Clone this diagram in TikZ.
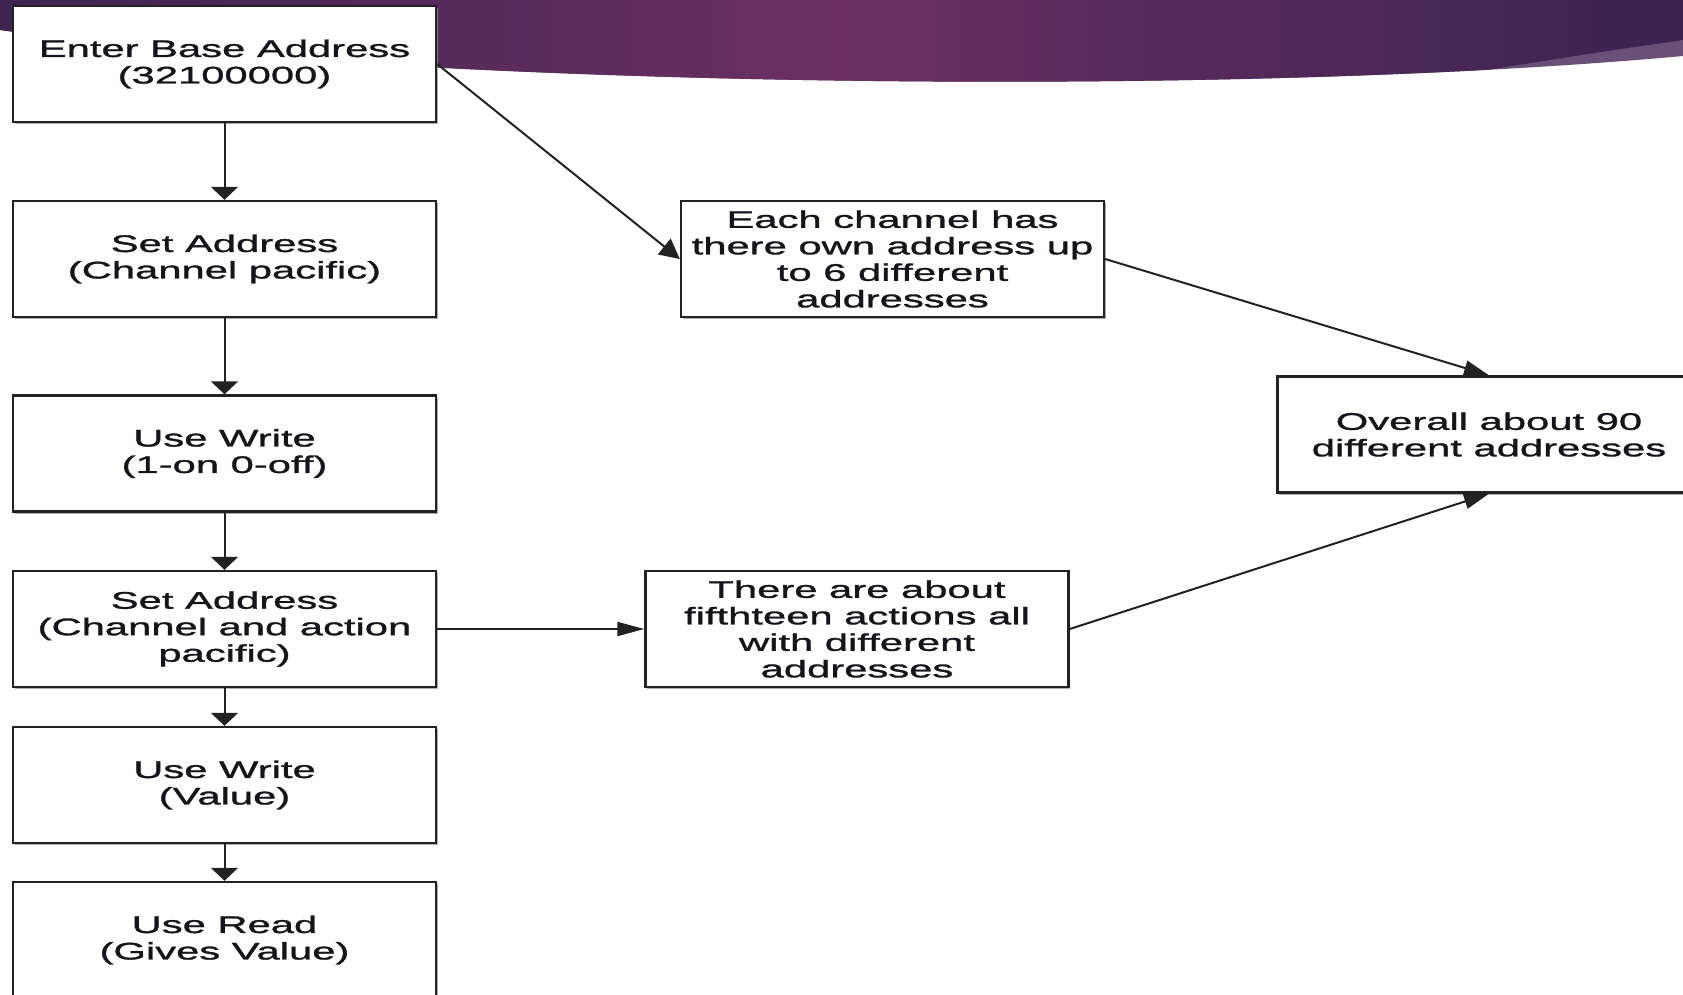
\documentclass[tikz,border=0pt]{standalone}
\usepackage{fontspec}
\setmainfont[FakeStretch=1.74,FakeBold=1.3,Ligatures=NoCommon]{Liberation Sans}
\usetikzlibrary{arrows.meta,shadows,calc}
\definecolor{bandL}{HTML}{3F2550}
\definecolor{bandM}{HTML}{6B2F63}
\definecolor{bandR}{HTML}{3A2350}
\definecolor{wedge}{HTML}{6A5078}
\definecolor{ink}{HTML}{14141C}
\definecolor{edge}{HTML}{222222}
\begin{document}
\begin{tikzpicture}[x=1pt,y=-1pt,
  box/.style={draw=edge, line width=2.4pt, fill=white, minimum width=423pt, minimum height=116pt,
    inner sep=0pt, align=center, text=ink, font=\fontsize{24}{26.5}\selectfont,
    drop shadow={shadow xshift=1.5pt, shadow yshift=-2pt, fill=black!45, opacity=0.7}},
  conn/.style={draw=edge, line width=2pt},
  vtip/.style={-{Triangle[length=13pt,width=27pt]}},
  htip/.style={-{Triangle[length=27pt,width=14pt]}},
  dtipa/.style={-{Triangle[length=20pt,width=20pt]}},
  dtipb/.style={-{Triangle[length=25pt,width=15pt]}},
]
\useasboundingbox (0,0) rectangle (1683,994);
% banner
\fill[wedge] (0,0) -- (1683,0) -- (1683,56) .. controls (1200,100) and (400,85) .. (0,30) -- cycle;
\begin{scope}
  \clip (0,0) -- (1683,0) -- (1683,40) .. controls (1600,52) .. (1487,70) -- (1400,120) -- (0,120) -- cycle;
  \shade[left color=bandL, right color=bandR, middle color=bandM]
    (0,0) -- (1683,0) -- (1683,56) .. controls (1200,100) and (400,85) .. (0,30) -- cycle;
\end{scope}
% boxes
\node[box] (b1) at (224.5,64) {Enter Base Address\\(32100000)};
\node[box] (b2) at (224.5,259) {Set Address\\(Channel pacific)};
\node[box] (b3) at (224.5,453.5) {Use Write\\(1-on 0-off)};
\node[box] (b4) at (224.5,629) {Set Address\\(Channel and action\\pacific)};
\node[box] (b5) at (224.5,785) {Use Write\\(Value)};
\node[box] (b6) at (224.5,940) {Use Read\\(Gives Value)};
\node[box] (each) at (892.5,259) {Each channel has\\there own address up\\to 6 different\\addresses};
\node[box] (there) at (857,629) {There are about\\fifthteen actions all\\with different\\addresses};
\node[box] (ov) at (1489,434.5) {Overall about 90\\different addresses};
% connectors
\draw[conn,vtip] (b1.south) -- (b2.north);
\draw[conn,vtip] (b2.south) -- (b3.north);
\draw[conn,vtip] (b3.south) -- (b4.north);
\draw[conn,vtip] (b4.south) -- (b5.north);
\draw[conn,vtip] (b5.south) -- (b6.north);
\draw[conn,htip] (b4.east) -- (there.west);
\draw[conn,dtipa] (b1.east) -- (each.west);
\draw[conn,dtipb] (each.east) -- (ov.north);
\draw[conn,dtipb] (there.east) -- (ov.south);
\end{tikzpicture}
\end{document}
